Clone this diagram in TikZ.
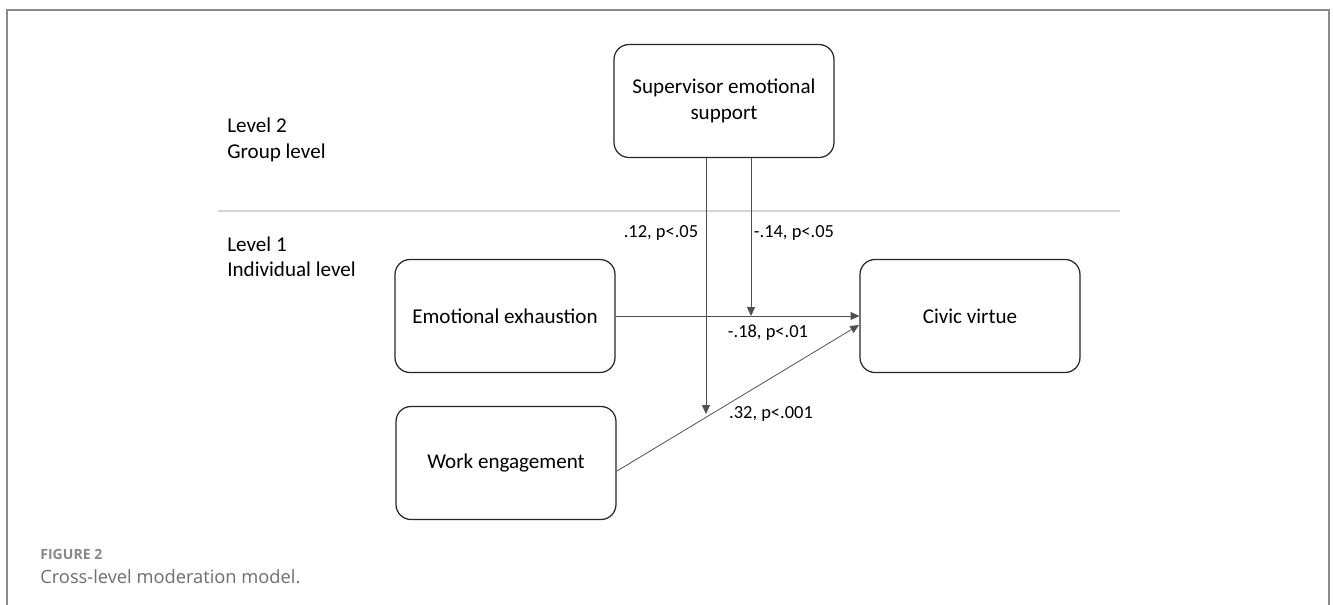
\documentclass[tikz,border=0pt]{standalone}
\usepackage{fontspec}
\setmainfont{Carlito}
\newfontfamily\capfont{Open Sans}
\usetikzlibrary{arrows.meta}
\definecolor{framegray}{HTML}{8C8C8C}
\definecolor{linegray}{HTML}{505050}
\definecolor{sepgray}{HTML}{D4D4D4}
\definecolor{capgray}{HTML}{6E6E6E}
\definecolor{figgray}{HTML}{888888}
\tikzset{
  varbox/.style={draw=black!85, line width=0.7pt, rounded corners=8.5pt,
    minimum width=4.4cm, minimum height=2.26cm, align=center,
    font=\fontsize{12}{14.6}\selectfont},
  effect/.style={draw=linegray, line width=0.45pt, -{Triangle[length=5pt,width=4.5pt]}},
  coef/.style={font=\fontsize{10.5}{12}\selectfont, inner sep=0pt},
  levellab/.style={font=\fontsize{12}{14.4}\selectfont, align=left, inner sep=0pt, anchor=west}
}
\begin{document}
\begin{tikzpicture}[x=0.02cm, y=-0.02cm]
	\useasboundingbox (0,0) rectangle (1333,605);
	% frame and level divider
	\draw[framegray, line width=0.8pt] (7,605) -- (7,10) -- (1329,10) -- (1329,605);
	\draw[sepgray, line width=0.6pt] (218,211) -- (1120,211);
	\node[levellab] (lvtwo) at (227,140) {Level 2\\Group level};
	\node[levellab] (lvone) at (227,257) {Level 1\\Individual level};
	% variables
	\node[varbox] (sup) at (724,101) {Supervisor emotional\\support};
	\node[varbox] (ee) at (505,316) {Emotional exhaustion};
	\node[varbox] (cv) at (970,316) {Civic virtue};
	\node[varbox] (we) at (506,463) {Work engagement};
	% paths
	\coordinate (m1) at (706,414);
	\coordinate (m2) at (751,316);
	\coordinate (wout) at (617,471);
	\coordinate (cvin) at (859,325);
	\draw[effect] (ee) -- (cv);
	\draw[effect] (wout) -- (cvin);
	\draw[effect] (m1 |- sup.south) -- (m1);
	\draw[effect] (m2 |- sup.south) -- (m2);
	\node[coef] (c1) at (661,233) {.12, p<.05};
	\node[coef] (c2) at (794,233) {-.14, p<.05};
	\node[coef] (c3) at (768,333) {-.18, p<.01};
	\node[coef] (c4) at (771,414) {.32, p<.001};
	% caption
	\node[anchor=west, inner sep=0pt, text=figgray, font=\capfont\bfseries\fontsize{8}{10}\selectfont] (fig) at (40,554) {FIGURE 2};
	\node[anchor=west, inner sep=0pt, text=capgray, font=\capfont\fontsize{10.4}{12}\selectfont] (cap) at (40,577) {Cross-level moderation model.};
\end{tikzpicture}
\end{document}
